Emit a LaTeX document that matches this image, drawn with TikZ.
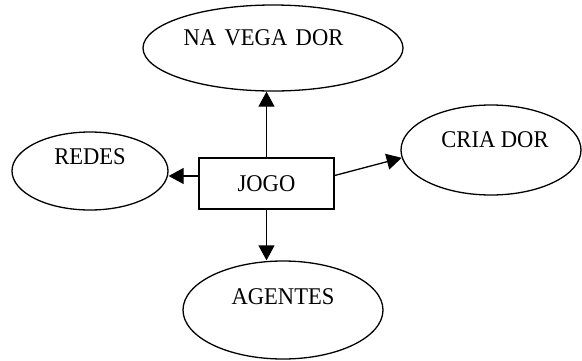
\documentclass[tikz,border=0pt]{standalone}
\usepackage{graphicx}
\usepackage{fontspec}
\setmainfont{Liberation Serif}
\usetikzlibrary{shapes.geometric,arrows.meta,calc}
% caps set a touch narrower than the font's own widths
\newcommand\tallcaps[1]{\scalebox{0.94}[1]{#1}}
\begin{document}
\begin{tikzpicture}[x=1pt,y=-1pt,
  bubble/.style={draw, ellipse, line width=1.3pt, inner sep=0pt},
  caption/.style={inner sep=0pt, font=\fontsize{24}{28}\selectfont},
  gamebox/.style={draw, line width=1.3pt, minimum width=135pt, minimum height=51pt,
    inner sep=0pt, font=\fontsize{24}{28}\selectfont},
  link/.style={line width=1.3pt, -{Triangle[length=15pt,width=16pt]}}]
\useasboundingbox (0,0) rectangle (582,360);

% outer ellipses
\node[bubble, minimum width=260pt, minimum height=86pt] (nav) at (273,48) {};
\node[bubble, minimum width=156pt, minimum height=78pt] (redes) at (90,171) {};
\node[bubble, minimum width=180pt, minimum height=90pt] (cria) at (491,150) {};
\node[bubble, minimum width=200pt, minimum height=98pt] (agen) at (283,310) {};

% their captions, set a little above centre
\node[caption] (navt) at (263.5,38) {\tallcaps{NA\hspace{9pt}VEGA\hspace{9pt}DOR}};
\node[caption] (redt) at (90,157) {\tallcaps{REDES}};
\node[caption] (crit) at (495,140) {\tallcaps{CRIA\hspace{6pt}DOR}};
\node[caption] (aget) at (283,297) {\tallcaps{AGENTES}};

% central box
\node[gamebox] (jogo) at (266.5,183.5) {\tallcaps{JOGO}};

% connectors
\draw[link] (jogo.north) -- (jogo.north |- nav.south);
\draw[link] ([yshift=7.5pt]jogo.west) -- ([yshift=7.5pt]jogo.west -| redes.east);
\draw[link] ([yshift=8pt]jogo.east) -- (cria.185);
\draw[link] (jogo.south) -- (jogo.south |- agen.north);
\end{tikzpicture}
\end{document}
